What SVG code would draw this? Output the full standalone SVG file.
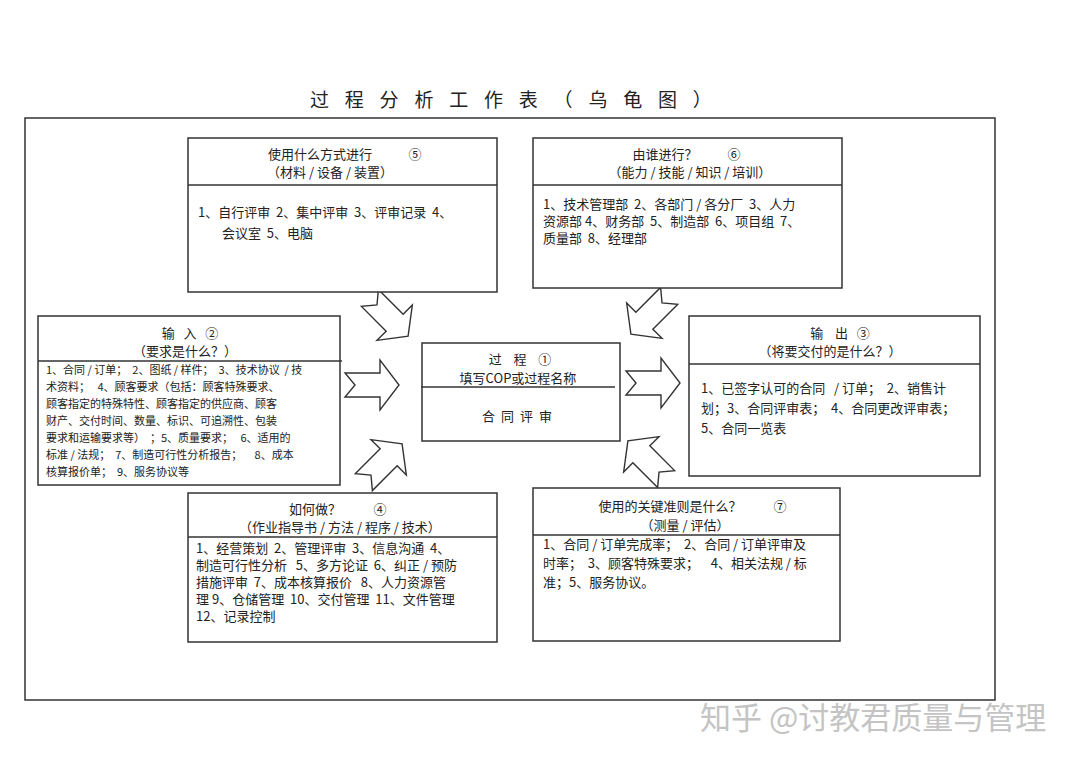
<svg xmlns="http://www.w3.org/2000/svg" width="1080" height="762" viewBox="0 0 1080 762">
<style>
text{font-family:"Noto Sans CJK SC","Liberation Sans",sans-serif;fill:#222;white-space:pre}
.b{fill:#fff;stroke:#333;stroke-width:1.5}
.l{stroke:#333;stroke-width:1.5}
.h{font-size:13px;text-anchor:middle}
.t{font-size:13px}
.s{font-size:11px}
.ar{fill:#fff;stroke:#333;stroke-width:1.4;stroke-linejoin:miter}
</style>
<defs><path id="arw" d="M-27,-12 L8,-12 L8,-25 L27,0 L8,25 L8,12 L-27,12 L-17,0 Z"/></defs>
<rect width="1080" height="762" fill="#fff"/>
<text x="310" y="107" font-size="19" letter-spacing="15.8">过程分析工作表（乌龟图）</text>
<rect x="25" y="118" width="970" height="582" fill="none" stroke="#333" stroke-width="1.5"/>
<g id="connectors">
<use href="#arw" class="ar" transform="translate(372,385)"/>
<use href="#arw" class="ar" transform="translate(653,383)"/>
<use href="#arw" class="ar" transform="translate(389,317) rotate(45)"/>
<use href="#arw" class="ar" transform="translate(383,463) rotate(-45)"/>
<use href="#arw" class="ar" transform="translate(650,315) rotate(135)"/>
<use href="#arw" class="ar" transform="translate(647,460) rotate(-135)"/>
</g>
<g id="n5">
<rect class="b" x="188" y="138" width="309" height="154"/>
<line class="l" x1="188" y1="185" x2="497" y2="185"/>
<text class="h" x="320" y="159">使用什么方式进行</text><text class="h" x="415" y="159">⑤</text>
<text class="h" x="330" y="177">（材料 / 设备 / 装置）</text>
<text class="t" x="198" y="217">1、自行评审  2、集中评审  3、评审记录  4、</text>
<text class="t" x="222" y="238">会议室  5、电脑</text>
</g>
<g id="n6">
<rect class="b" x="533" y="138" width="309" height="150"/>
<line class="l" x1="533" y1="185" x2="842" y2="185"/>
<text class="h" x="665" y="159">由谁进行？</text><text class="h" x="734" y="159">⑥</text>
<text class="h" x="690" y="177">（能力 / 技能 / 知识 / 培训）</text>
<text class="t" x="543" y="209">1、技术管理部  2、各部门 / 各分厂  3、人力</text>
<text class="t" x="543" y="226">资源部 4、财务部  5、制造部  6、项目组  7、</text>
<text class="t" x="543" y="243">质量部  8、经理部</text>
</g>
<g id="n2">
<rect class="b" x="38" y="316" width="302" height="169"/>
<line class="l" x1="38" y1="361" x2="342" y2="361"/>
<text class="h" x="190" y="338">输   入   ②</text>
<text class="h" x="185" y="356">（要求是什么？）</text>
<text class="s" x="46" y="374">1、合同 / 订单；  2、图纸 / 样件；  3、技术协议  / 技</text>
<text class="s" x="46" y="391">术资料；   4、顾客要求（包括：顾客特殊要求、</text>
<text class="s" x="46" y="408">顾客指定的特殊特性、顾客指定的供应商、顾客</text>
<text class="s" x="46" y="425">财产、交付时间、数量、标识、可追溯性、包装</text>
<text class="s" x="46" y="442">要求和运输要求等）  ；5、质量要求；   6、适用的</text>
<text class="s" x="46" y="459">标准 / 法规；  7、制造可行性分析报告；     8、成本</text>
<text class="s" x="46" y="476">核算报价单；  9、服务协议等</text>
</g>
<g id="n1">
<rect class="b" x="422" y="343" width="198" height="98"/>
<line class="l" x1="421" y1="387" x2="615" y2="387"/>
<text class="h" x="520" y="364">过    程    ①</text>
<text class="h" x="518" y="383">填写COP或过程名称</text>
<text class="h" x="520" y="421" letter-spacing="6">合同评审</text>
</g>
<g id="n3">
<rect class="b" x="689" y="316" width="291" height="160"/>
<line class="l" x1="689" y1="364" x2="980" y2="364"/>
<text class="h" x="840" y="338">输    出   ③</text>
<text class="h" x="830" y="356">（将要交付的是什么？）</text>
<text class="t" x="701" y="393">1、已签字认可的合同   / 订单；  2、销售计</text>
<text class="t" x="701" y="413">划；3、合同评审表；  4、合同更改评审表；</text>
<text class="t" x="701" y="433">5、合同一览表</text>
</g>
<g id="n4">
<rect class="b" x="188" y="493" width="309" height="149"/>
<line class="l" x1="188" y1="537" x2="497" y2="537"/>
<text class="h" x="315" y="514">如何做？</text><text class="h" x="380" y="514">④</text>
<text class="h" x="340" y="532">（作业指导书 / 方法 / 程序 / 技术）</text>
<text class="t" x="196" y="553">1、经营策划  2、管理评审  3、信息沟通  4、</text>
<text class="t" x="196" y="570">制造可行性分析   5、多方论证  6、纠正 / 预防</text>
<text class="t" x="196" y="587">措施评审  7、成本核算报价   8、人力资源管</text>
<text class="t" x="196" y="604">理 9、仓储管理  10、交付管理  11、文件管理</text>
<text class="t" x="196" y="621">12、记录控制</text>
</g>
<g id="n7">
<rect class="b" x="533" y="488" width="307" height="153"/>
<line class="l" x1="533" y1="535" x2="840" y2="535"/>
<text class="h" x="670" y="511">使用的关键准则是什么？</text><text class="h" x="780" y="511">⑦</text>
<text class="h" x="685" y="530">（测量 / 评估）</text>
<text class="t" x="543" y="549">1、合同 / 订单完成率；  2、合同 / 订单评审及</text>
<text class="t" x="543" y="568">时率；  3、顾客特殊要求；    4、相关法规 / 标</text>
<text class="t" x="543" y="587">准；5、服务协议。</text>
</g>
<text x="700" y="729" font-size="31" style="fill:#c4c4c4">知乎 @讨教君质量与管理</text>
</svg>
